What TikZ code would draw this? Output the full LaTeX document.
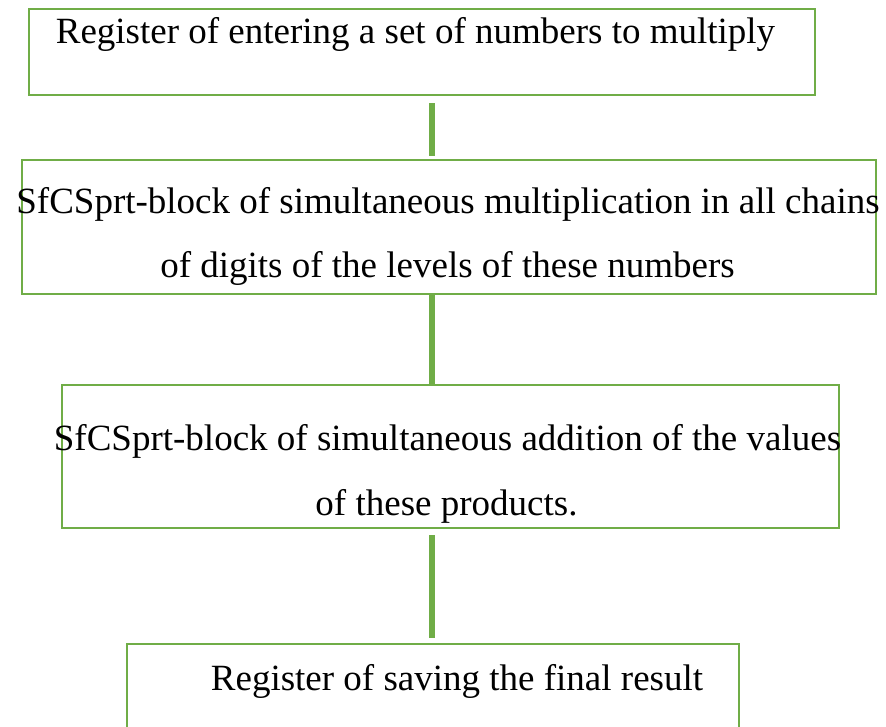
\documentclass[tikz,border=0pt]{standalone}
\usepackage{fontspec}
\setmainfont{Liberation Serif}
\definecolor{boxgreen}{HTML}{70AD47}
\begin{document}
\begin{tikzpicture}[x=1pt,y=-1pt,
  blk/.style={draw=boxgreen, line width=2.6pt, rectangle, inner sep=0pt},
  lbl/.style={font=\fontsize{37}{44}\selectfont, inner sep=0pt, anchor=base},
  link/.style={draw=boxgreen, line width=6pt}]
\useasboundingbox (0,0) rectangle (886,727);
\clip (0,0) rectangle (886,727);
\coordinate (cx) at (432,0);
\node[blk, minimum width=786pt, minimum height=86pt] (b1) at (422,52) {};
\node[blk, minimum width=854pt, minimum height=134pt] (b2) at (449,227) {};
\node[blk, minimum width=777pt, minimum height=143pt] (b3) at (450.5,456.5) {};
\node[blk, minimum width=612pt, minimum height=100pt] (b4) at (433,694) {};
\draw[link, shorten <=7pt, shorten >=3pt] (b1.south -| cx) -- (b2.north -| cx);
\draw[link] (b2.south -| cx) -- (b3.north -| cx);
\draw[link, shorten <=6pt, shorten >=5pt] (b3.south -| cx) -- (b4.north -| cx);
\node[lbl] (t1) at (415.5,44) {Register of entering a set of numbers to multiply};
\node[lbl] (t2a) at (448,214) {SfCSprt-block of simultaneous multiplication in all chains};
\node[lbl] (t2b) at (447.5,278) {of digits of the levels of these numbers};
\node[lbl] (t3a) at (447.5,450) {SfCSprt-block of simultaneous addition of the values};
\node[lbl] (t3b) at (446.5,515) {of these products.};
\node[lbl] (t4) at (457,690) {Register of saving the final result};
\end{tikzpicture}
\end{document}
